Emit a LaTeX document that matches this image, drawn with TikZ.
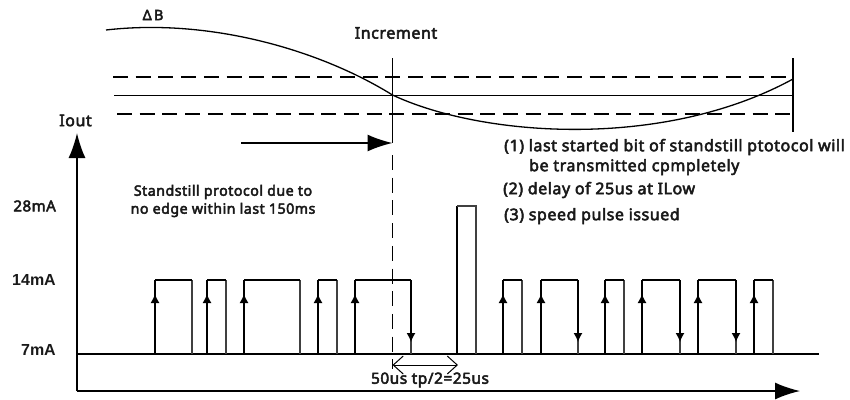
\documentclass[tikz,border=0pt]{standalone}
\usepackage{fontspec}
\setmainfont{Noto Sans}[BoldFont=Noto Sans,BoldFeatures={FakeBold=3.2,LetterSpace=3.5}]
\newfontfamily\arialbold{Liberation Sans}
\usetikzlibrary{arrows.meta}
\tikzset{
 lbl/.style={font=\fontsize{16}{18}\selectfont\bfseries,inner sep=0pt,text=black!90},
 slbl/.style={font=\fontsize{14.2}{16}\selectfont\bfseries,inner sep=0pt,text=black!90},
 albl/.style={font=\fontsize{16}{18}\selectfont\arialbold\bfseries,inner sep=0pt,text=black!90},
 ln/.style={line width=1.3pt,black},
 fall/.style={line width=1.3pt,black!75},
 upa/.style={ln,-{Latex[length=9pt,width=9pt]}},
 bigA/.style={line width=1.5pt,-{Latex[length=25pt,width=17pt]}},
 dsh/.style={line width=1.3pt,dash pattern=on 15pt off 7.7pt},
}
\newcommand{\pulse}[4][]{%
 \coordinate (a#2) at (#2,354); \coordinate (b#2) at (#2,280);
 \coordinate (c#2) at (#3,280); \coordinate (d#2) at (#3,354);
 \draw[fall] (c#2) -- (d#2);
 \draw[ln] (b#2) -- (c#2);
 \draw[ln] (a#2) -- (b#2);
 \coordinate (t#2) at (#2,294);
 \draw[upa] (a#2) -- (t#2);
 #4
}
\newcommand{\dn}[1]{\coordinate (q#1) at (#1,342); \coordinate (w#1) at (#1,280); \draw[upa] (w#1) -- (q#1);}
\begin{document}
\begin{tikzpicture}[x=1pt,y=-1pt]
\useasboundingbox (0,0) rectangle (850,399);
% sensor part
\coordinate (dl1) at (113,77); \coordinate (dr1) at (793,77);
\coordinate (ml) at (114,95); \coordinate (mr) at (793,95);
\coordinate (dl2) at (117,114); \coordinate (dr2) at (793,114);
\draw[dsh] (dl1) -- (dr1);
\draw[line width=.6pt] (ml) -- (mr);
\draw[dsh] (dl2) -- (dr2);
\coordinate (inct) at (392.5,58); \coordinate (incm) at (392.5,143);
\coordinate (incd) at (392.5,155); \coordinate (incb) at (392.5,369);
\draw[ln] (inct) -- (incm);
\draw[dsh] (incd) -- (incb);
\coordinate (rt) at (793,58); \coordinate (rb) at (793,132);
\draw[ln] (rt) -- (rb);
\coordinate (cs) at (106,30); \coordinate (cm) at (392.5,95); \coordinate (ce) at (793,79);
\draw[ln] (cs) .. controls (210,18) and (320,50) .. (cm)
 .. controls (482,137) and (663,150) .. (ce);
\coordinate (as) at (241,143);
\draw[bigA] (as) -- (incm);
% axes
\coordinate (o) at (77,391); \coordinate (yt) at (77,133); \coordinate (xt) at (800,391);
\draw[bigA] (o) -- (yt);
\draw[bigA] (o) -- (xt);
\coordinate (bl) at (77,354); \coordinate (br) at (819,354);
\draw[ln] (bl) -- (br);
% pulses
\pulse{155}{192}{}
\pulse{207}{226}{}
\pulse{244}{300}{}
\pulse{318}{337}{}
\pulse{355}{411}{\dn{411}}
\pulse{503}{522}{}
\pulse{541}{578}{\dn{578}}
\pulse{605}{624}{}
\pulse{642}{680}{\dn{680}}
\pulse{698}{736}{\dn{736}}
\pulse{754}{773}{}
% spike
\coordinate (s1) at (457,354); \coordinate (s2) at (457,206);
\coordinate (s3) at (476,206); \coordinate (s4) at (476,354);
\draw[ln] (s1) -- (s2);
\draw[fall] (s2) -- (s3) -- (s4);
% double arrow
\coordinate (da) at (392.5,365); \coordinate (db) at (458,365);
\draw[line width=1pt,{Straight Barb[length=10pt,width=18pt]}-{Straight Barb[length=10pt,width=18pt]}] (da) -- (db);
% labels
\node[slbl] (dB) at (153,15) {\char"0394\,B};
\node[lbl] (inc) at (396,33) {Increment};
\node[lbl] (iout) at (75.5,120.5) {Iout};
\node[lbl,font=\fontsize{15}{17}\selectfont\bfseries,anchor=east] (m28) at (56,206) {28mA};
\node[albl,anchor=east] (m14) at (56,280) {14mA};
\node[albl,anchor=east] (m7) at (56,350) {7mA};
\node[slbl] (sp1) at (223,192) {Standstill protocol due to};
\node[slbl] (sp2) at (223,210) {no edge within last 150ms};
\node[lbl,anchor=west] (n1) at (504,147) {(1) last started bit of standstill ptotocol will};
\node[lbl,anchor=west] (n1b) at (529,167) {be transmitted cpmpletely};
\node[lbl,anchor=west] (n2) at (503,190) {(2) delay of 25us at ILow};
\node[lbl,anchor=west] (n3) at (504,216) {(3) speed pulse issued};
\node[lbl,font=\fontsize{15.4}{17}\selectfont\bfseries] (tp) at (430,380) {50us tp/2=25us};
\end{tikzpicture}
\end{document}
